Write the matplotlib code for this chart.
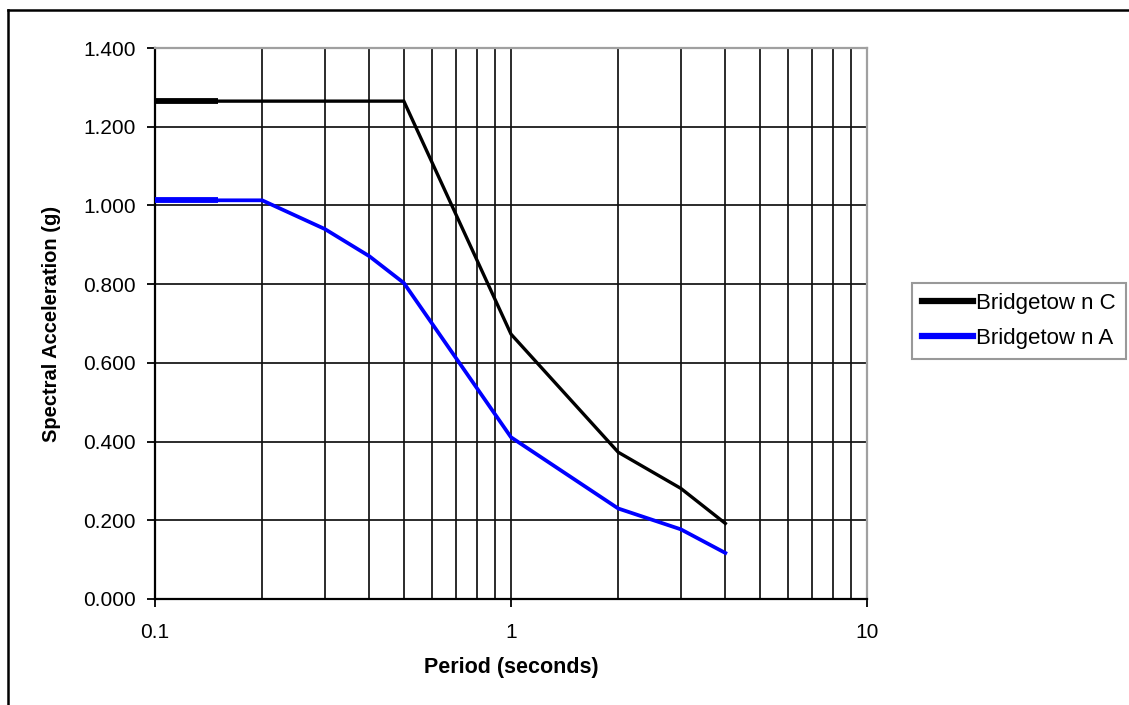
import matplotlib
matplotlib.use("Agg")
import matplotlib.pyplot as plt
from matplotlib.lines import Line2D
from matplotlib.ticker import FixedLocator, NullFormatter, FuncFormatter

plt.rcParams['font.family'] = ['Liberation Sans', 'DejaVu Sans']

# ---- data ----
period_c = [0.1, 0.15, 0.5, 1.0, 2.0, 3.0, 4.0]
accel_c = [1.265, 1.265, 1.265, 0.673, 0.373, 0.281, 0.192]

period_a = [0.1, 0.15, 0.2, 0.3, 0.4, 0.5, 1.0, 2.0, 3.0, 4.0]
accel_a = [1.013, 1.013, 1.013, 0.940, 0.871, 0.803, 0.411, 0.230, 0.177, 0.117]

series_names = ["Bridgetow n C", "Bridgetow n A"]
series_colors = ["#000000", "#0000ff"]

y_ticks = [0.0, 0.2, 0.4, 0.6, 0.8, 1.0, 1.2, 1.4]
x_major = [0.1, 1, 10]
x_minor = [0.2, 0.3, 0.4, 0.5, 0.6, 0.7, 0.8, 0.9, 2, 3, 4, 5, 6, 7, 8, 9]

W, H = 1129, 705
fig = plt.figure(figsize=(W / 100, H / 100), dpi=100)
fig.patch.set_facecolor('white')

ax = fig.add_axes([155 / W, 1 - 599 / H, (867 - 155) / W, (599 - 48) / H])
ax.set_xscale('log')
ax.set_xlim(0.1, 10)
ax.set_ylim(0, 1.4)

# grid
for xv in x_major + x_minor:
    ax.axvline(xv, color='#111111', lw=1.25, zorder=1)
for yv in y_ticks:
    ax.axhline(yv, color='#111111', lw=1.25, zorder=1)

# series
ax.plot(period_c, accel_c, color=series_colors[0], lw=2.4, zorder=3,
        solid_joinstyle='miter')
ax.plot(period_a, accel_a, color=series_colors[1], lw=2.7, zorder=3,
        solid_joinstyle='miter')
# thicker first segments (artifact of source rendering)
ax.plot(period_c[:2], accel_c[:2], color=series_colors[0], lw=4.2, zorder=3,
        solid_capstyle='butt')
ax.plot(period_a[:2], accel_a[:2], color=series_colors[1], lw=4.2, zorder=3,
        solid_capstyle='butt')

# spines
for s in ['top', 'right']:
    ax.spines[s].set_color('#a0a0a0')
    ax.spines[s].set_linewidth(1.6)
for s in ['left', 'bottom']:
    ax.spines[s].set_color('#000000')
    ax.spines[s].set_linewidth(1.6)

ax.xaxis.set_major_locator(FixedLocator(x_major))
ax.xaxis.set_minor_locator(FixedLocator(x_minor))
ax.xaxis.set_minor_formatter(NullFormatter())
ax.xaxis.set_major_formatter(FuncFormatter(lambda v, p: ('%g' % v)))
ax.tick_params(axis='x', which='major', direction='out', length=6, width=1.3,
               labelsize=15, pad=11, colors='black')
ax.tick_params(axis='x', which='minor', length=0)

ax.yaxis.set_major_locator(FixedLocator(y_ticks))
ax.yaxis.set_major_formatter(FuncFormatter(lambda v, p: '%.3f' % v))
ax.tick_params(axis='y', direction='out', length=6, width=1.3,
               labelsize=15, pad=8, colors='black')

ax.set_xlabel('Period (seconds)', fontsize=15.5, fontweight='bold', labelpad=11)
ax.set_ylabel('Spectral Acceleration (g)', fontsize=14.5, fontweight='bold', labelpad=16)

# legend
handles = [Line2D([], [], color=series_colors[0], lw=4.5),
           Line2D([], [], color=series_colors[1], lw=4.5)]
leg = fig.legend(handles, series_names, loc='center left',
                 bbox_to_anchor=(912 / W, 1 - 321 / H),
                 frameon=True, fancybox=False, fontsize=16,
                 handlelength=2.3, handletextpad=0.15, borderpad=0.45,
                 labelspacing=0.65, borderaxespad=0)
leg.get_frame().set_edgecolor('#808080')
leg.get_frame().set_linewidth(1.5)

# outer frame (top and left visible)
fig.add_artist(Line2D([8 / W, 1.0], [1 - 10 / H, 1 - 10 / H], transform=fig.transFigure,
                      color='black', lw=1.8))
fig.add_artist(Line2D([8 / W, 8 / W], [0.0, 1 - 10 / H], transform=fig.transFigure,
                      color='black', lw=1.8))

fig.savefig('out.png', dpi=100)
